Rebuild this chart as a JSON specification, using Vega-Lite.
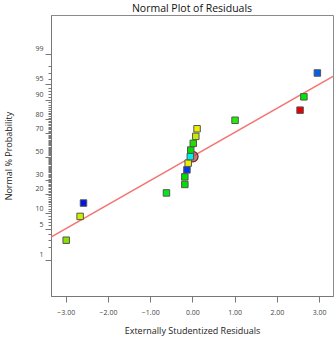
{
  "$schema": "https://vega.github.io/schema/vega-lite/v6.json",
  "width": 282,
  "height": 281,
  "autosize": "none",
  "padding": {"left": 51, "top": 15, "right": 3, "bottom": 44},
  "title": {"text": "Normal Plot of Residuals", "fontSize": 10.5, "fontWeight": "normal", "font": "Open Sans", "color": "#111", "offset": 1},
  "config": {
    "view": {"stroke": "#8a8a8a", "strokeWidth": 1},
    "axis": {"font": "Open Sans", "labelFont": "Open Sans", "titleFont": "Open Sans", "grid": false, "domainColor": "#777", "tickColor": "#777", "labelColor": "#444", "titleColor": "#222", "titleFontWeight": "normal"}
  },
  "datasets": {
    "residuals": [
      {"residual": -2.99, "z": -1.8895, "color": "#88e000"},
      {"residual": -2.66, "z": -1.3516, "color": "#ccee00"},
      {"residual": -2.58, "z": -1.0494, "color": "#0018e0"},
      {"residual": -0.615, "z": -0.8208, "color": "#00e818"},
      {"residual": -0.18, "z": -0.6289, "color": "#00e000"},
      {"residual": -0.18, "z": -0.4578, "color": "#00dd00"},
      {"residual": -0.13, "z": -0.299, "color": "#0038f0"},
      {"residual": -0.1, "z": -0.148, "color": "#eeee00"},
      {"residual": -0.05, "z": 0, "color": "#00eeee"},
      {"residual": -0.04, "z": 0.148, "color": "#00e000"},
      {"residual": 0.02, "z": 0.299, "color": "#22dd00"},
      {"residual": 0.08, "z": 0.4578, "color": "#c4ec00"},
      {"residual": 0.11, "z": 0.6289, "color": "#eeee00"},
      {"residual": 1.01, "z": 0.8208, "color": "#22ee00"},
      {"residual": 2.55, "z": 1.0494, "color": "#e80000"},
      {"residual": 2.64, "z": 1.3516, "color": "#00e800"},
      {"residual": 2.96, "z": 1.8895, "color": "#0060e8"}
    ],
    "fit": [
      {"residual": -3.35, "z": -1.82},
      {"residual": 3.33, "z": 1.81}
    ],
    "center": [
      {"residual": 0.01, "z": 0}
    ]
  },
  "encoding": {
    "x": {
      "field": "residual", "type": "quantitative",
      "scale": {"domain": [-3.35, 3.33], "nice": false, "zero": false},
      "axis": {"title": "Externally Studentized Residuals", "values": [-3, -2, -1, 0, 1, 2, 3], "format": ".2f", "labelFontSize": 7, "tickSize": 6, "labelPadding": 6, "titleFontSize": 9, "titlePadding": 11}
    },
    "y": {
      "field": "z", "type": "quantitative",
      "scale": {"domain": [-3.15, 3.2], "nice": false, "zero": false},
      "axis": {
        "title": "Normal % Probability",
        "titleFontSize": 9,
        "titlePadding": 21,
        "labelFontSize": 7,
        "labelPadding": 2,
        "labelOffset": -5,
        "values": [-2.3263, -2.0537, -1.8808, -1.7507, -1.6449, -1.5548, -1.4758, -1.4051, -1.3408, -1.2816, -1.2265, -1.175, -1.1264, -1.0803, -1.0364, -0.9945, -0.9542, -0.9154, -0.8779, -0.8416, -0.8064, -0.7722, -0.7388, -0.7063, -0.6745, -0.6433, -0.6128, -0.5828, -0.5534, -0.5244, -0.4959, -0.4677, -0.4399, -0.4125, -0.3853, -0.3585, -0.3319, -0.3055, -0.2793, -0.2533, -0.2275, -0.2019, -0.1764, -0.151, -0.1257, -0.1004, -0.0753, -0.0502, -0.0251, 0, 0.0251, 0.0502, 0.0753, 0.1004, 0.1257, 0.151, 0.1764, 0.2019, 0.2275, 0.2533, 0.2793, 0.3055, 0.3319, 0.3585, 0.3853, 0.4125, 0.4399, 0.4677, 0.4959, 0.5244, 0.5534, 0.5828, 0.6128, 0.6433, 0.6745, 0.7063, 0.7388, 0.7722, 0.8064, 0.8416, 0.8779, 0.9154, 0.9542, 0.9945, 1.0364, 1.0803, 1.1264, 1.175, 1.2265, 1.2816, 1.3408, 1.4051, 1.4758, 1.5548, 1.6449, 1.7507, 1.8808, 2.0537, 2.3263],
        "labelExpr": "abs(datum.value-2.3263)<0.001?'99':abs(datum.value-1.6449)<0.001?'95':abs(datum.value-1.2816)<0.001?'90':abs(datum.value-0.8416)<0.001?'80':abs(datum.value-0.5244)<0.001?'70':abs(datum.value)<0.001?'50':abs(datum.value+0.5244)<0.001?'30':abs(datum.value+0.8416)<0.001?'20':abs(datum.value+1.2816)<0.001?'10':abs(datum.value+1.6449)<0.001?'5':abs(datum.value+2.3263)<0.001?'1':''",
        "tickSize": {"condition": {"test": "abs(datum.value-2.3263)<0.001||abs(datum.value-1.6449)<0.001||abs(datum.value-1.2816)<0.001||abs(datum.value-0.8416)<0.001||abs(datum.value-0.5244)<0.001||abs(datum.value)<0.001||abs(datum.value+0.5244)<0.001||abs(datum.value+0.8416)<0.001||abs(datum.value+1.2816)<0.001||abs(datum.value+1.6449)<0.001||abs(datum.value+2.3263)<0.001", "value": 6}, "value": 3},
        "labelOverlap": false
      }
    }
  },
  "layer": [
    {
      "data": {"name": "fit"},
      "mark": {"type": "line", "color": "#f47474", "strokeWidth": 1.5, "clip": true}
    },
    {
      "data": {"name": "center"},
      "mark": {"type": "point", "shape": "circle", "size": 110, "filled": true, "fill": "#b84a4a", "fillOpacity": 0.75, "stroke": "#6a2a2a", "strokeWidth": 1.2}
    },
    {
      "data": {"name": "residuals"},
      "mark": {"type": "point", "shape": "square", "size": 42, "filled": true, "stroke": "#555", "strokeWidth": 1, "opacity": 1},
      "encoding": {
        "fill": {"field": "color", "type": "nominal", "scale": null}
      }
    }
  ]
}
